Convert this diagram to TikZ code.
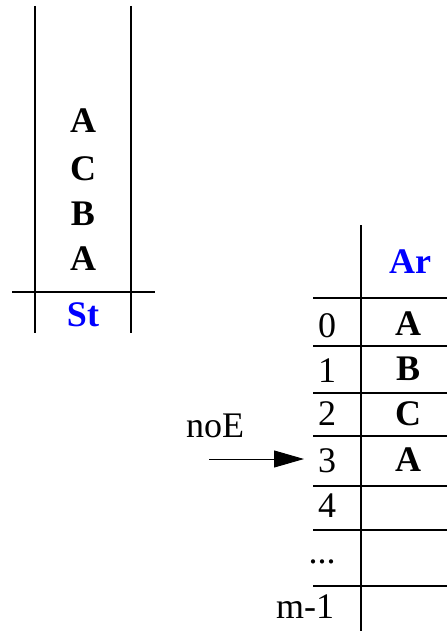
\documentclass[tikz,border=0pt]{standalone}
\usepackage{fontspec}
\setmainfont{Liberation Serif}
\usetikzlibrary{arrows.meta}
\definecolor{lblue}{RGB}{0,0,255}
\tikzset{
  rule/.style={line width=2pt, black},
  txt/.style={anchor=base, inner sep=0pt, font=\fontsize{36}{40}\selectfont},
  btxt/.style={txt, font=\fontsize{36}{40}\selectfont\bfseries},
  head/.style={btxt, text=lblue},
  ptr/.style={line width=1pt, -{Triangle[length=30pt, width=17pt]}}
}
\begin{document}
\begin{tikzpicture}[x=1pt, y=-1pt]
\useasboundingbox (0,0) rectangle (447,631);
% stack
\draw[rule] (35,6) -- (35,333);
\draw[rule] (131,6) -- (131,333);
\draw[rule] (12,292) -- (155,292);
\node[btxt] (s1) at (83,133) {A};
\node[btxt] (s2) at (83,180) {C};
\node[btxt] (s3) at (83,225) {B};
\node[btxt] (s4) at (83,270) {A};
\node[head] (st) at (83,326) {St};
% array
\draw[rule] (361,225) -- (361,631);
\foreach \yy in {298,346,393,436,486,530,586}
  \draw[rule] (313,\yy) -- (447,\yy);
\node[head] (ar) at (410,273) {Ar};
\node[txt] (n0) at (327,337) {0};
\node[txt] (n1) at (327,382) {1};
\node[txt] (n2) at (327,425) {2};
\node[txt] (n3) at (327,472) {3};
\node[txt] (n4) at (327,517) {4};
\node[txt] (ndots) at (322,563) {...};
\node[txt] (nm) at (305,618) {m-1};
\node[btxt] (a0) at (408,335) {A};
\node[btxt] (a1) at (408,380) {B};
\node[btxt] (a2) at (408,425) {C};
\node[btxt] (a3) at (408,471) {A};
% pointer
\node[txt] (noe) at (215,437) {noE};
\coordinate (pstart) at (209,459);
\coordinate (pend) at (304,459);
\draw[ptr] (pstart) -- (pend);
\end{tikzpicture}
\end{document}
